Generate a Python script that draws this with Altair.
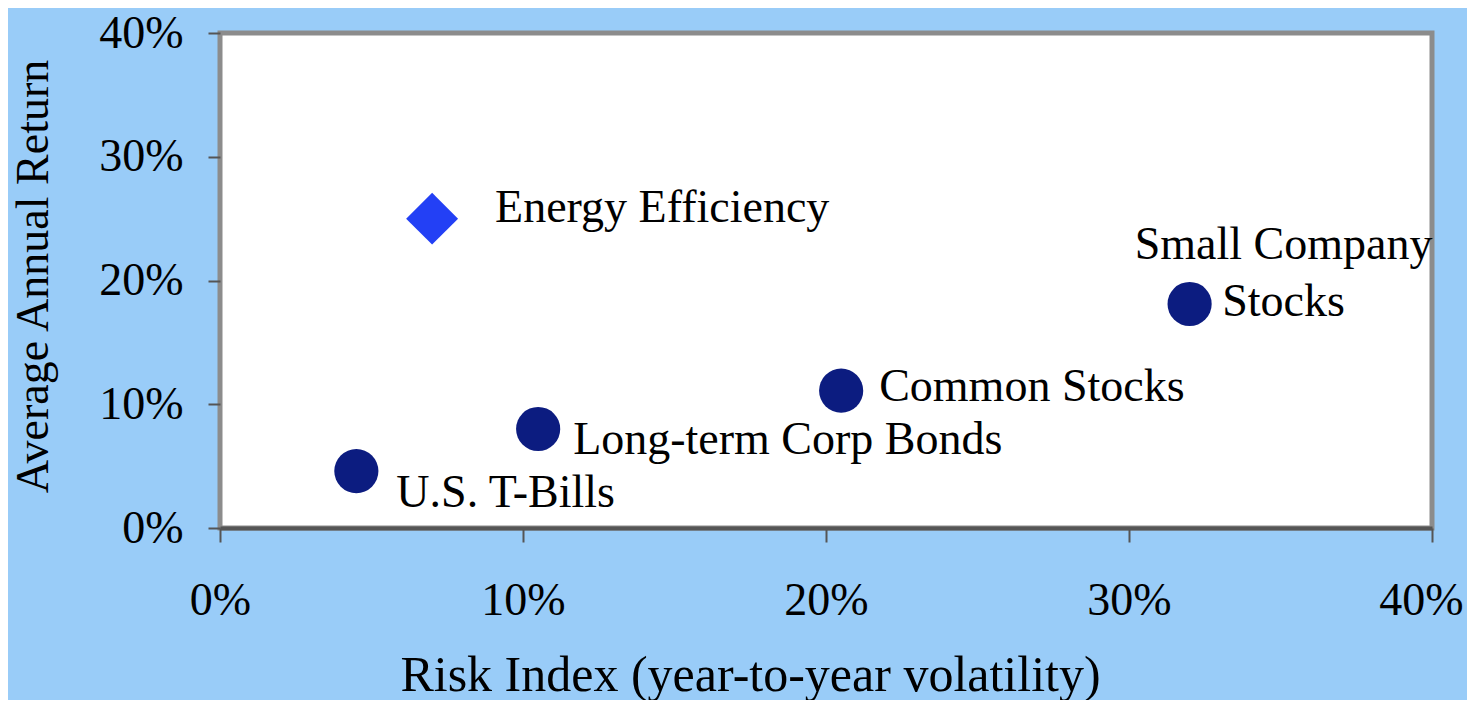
import altair as alt
import pandas as pd

names = ["U.S. T-Bills", "Long-term Corp Bonds", "Common Stocks", "Small Company Stocks", "Energy Efficiency"]
label_text = ["U.S. T-Bills", "Long-term Corp Bonds", "Common Stocks", "Small Company\nStocks", "Energy Efficiency"]
risk = [0.045, 0.105, 0.205, 0.32, 0.07]
ret = [0.046, 0.080, 0.111, 0.181, 0.250]
kind = ["Traditional", "Traditional", "Traditional", "Traditional", "Energy"]
tick_vals = [0.0, 0.1, 0.2, 0.3, 0.4]

df = pd.DataFrame({"name": names, "label": label_text, "risk": risk, "ret": ret, "kind": kind})

FONT = "Liberation Serif"
FS = 46

x = alt.X("risk:Q", scale=alt.Scale(domain=[0, 0.4], nice=False),
          axis=alt.Axis(values=tick_vals, format=".0%", title="Risk Index (year-to-year volatility)",
                        grid=False, domain=True, domainColor="#555555", domainWidth=4,
                        ticks=True, tickColor="#555555", tickWidth=2, tickSize=14,
                        labelFlush=False, labelOverlap=False,
                        labelOffset=alt.condition("datum.value >= 0.39", alt.value(-11), alt.value(0)),
                        labelPadding=36, labelFont=FONT, labelFontSize=FS, labelColor="black",
                        titleFont=FONT, titleFontSize=50, titleFontWeight="normal", titleColor="black",
                        titleX=530, titleY=162, titleBaseline="alphabetic", titleAlign="center"))
y = alt.Y("ret:Q", scale=alt.Scale(domain=[0, 0.4], nice=False),
          axis=alt.Axis(values=tick_vals, format=".0%", title="Average Annual Return",
                        grid=False, domain=False,
                        ticks=True, tickColor="#555555", tickWidth=2, tickSize=12,
                        labelFlush=False, labelOverlap=False,
                        labelPadding=25, labelFont=FONT, labelFontSize=FS, labelColor="black",
                        titleFont=FONT, titleFontSize=FS, titleFontWeight="normal", titleColor="black",
                        titleAngle=-90, titleX=-187, titleY=243, titleBaseline="middle", titleAlign="center"))

base = alt.Chart(df).encode(x=x, y=y)

circles = base.mark_point(shape="circle", filled=True, size=1950, color="#0C1C80", opacity=1).transform_filter(
    alt.datum.kind == "Traditional")
diamond = base.mark_point(shape="diamond", filled=True, size=2700, color="#2340F5", opacity=1).transform_filter(
    alt.datum.kind == "Energy")

offsets = {
    "U.S. T-Bills": dict(dx=40, dy=22, align="left"),
    "Long-term Corp Bonds": dict(dx=35, dy=11, align="left"),
    "Common Stocks": dict(dx=38, dy=-4, align="left"),
    "Small Company Stocks": dict(dx=94, dy=-59, align="center"),
    "Energy Efficiency": dict(dx=63, dy=-11, align="left"),
}

layers = [circles, diamond]
for n in names:
    o = offsets[n]
    layers.append(
        base.mark_text(font=FONT, fontSize=FS, color="black", baseline="middle",
                       lineBreak="\n", lineHeight=57, **o)
        .encode(text="label:N")
        .transform_filter(alt.datum.name == n)
    )

chart = alt.layer(*layers).properties(
    width=1212, height=495,
    autosize=alt.AutoSizeParams(type="none"),
    padding={"left": 212, "top": 25, "right": 35, "bottom": 172},
    background="#99CCF8",
).configure_view(
    fill="white", stroke="#8C8C8C", strokeWidth=5
)

chart.save("out.html", embed_options={"renderer": "svg", "actions": False})
